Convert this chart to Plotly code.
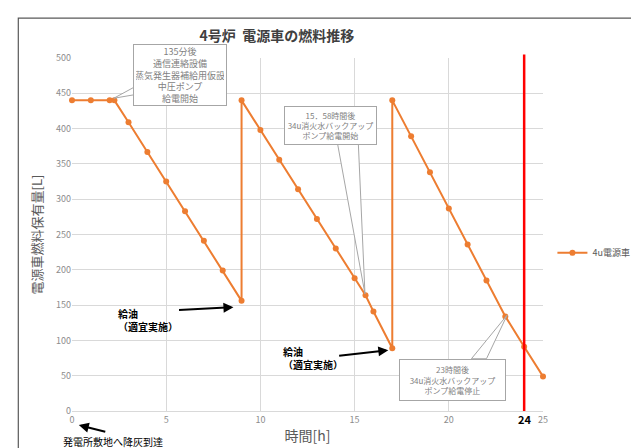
import plotly.graph_objects as go

# ---- data ----
hours = [0, 1, 2, 2.25, 3, 4, 5, 6, 7, 8, 9, 9, 10, 11, 12, 13, 14, 15, 15.58, 16, 17,
         17, 18, 19, 20, 21, 22, 23, 24, 25]
fuel = [440, 440, 440, 440, 409, 367, 325, 283, 241, 199, 156, 440, 398, 356, 314, 272,
        230, 188, 164, 141, 89, 440, 389, 338, 287, 236, 185, 134, 91, 49]
series_name = "4u電源車"
x_ticks = [0, 5, 10, 15, 20, 25]
y_ticks = [0, 50, 100, 150, 200, 250, 300, 350, 400, 450, 500]
limit_hour = 24
X_MAX = 25

FONT = "Noto Sans CJK JP"
ORANGE = "#ED7D31"
GRAY_TXT = "#7f7f7f"
BOX_LINE = "#a6a6a6"

fig = go.Figure()
fig.add_trace(go.Scatter(
    x=hours, y=fuel, mode="lines+markers", name=series_name,
    line=dict(color=ORANGE, width=2),
    marker=dict(color=ORANGE, size=6),
    cliponaxis=False,
))

shapes = []
# red vertical line at 24h
shapes.append(dict(type="line", xref="x", yref="paper", x0=limit_hour, x1=limit_hour,
                   y0=0, y1=1.01, line=dict(color="#ff0000", width=2.5)))
# callout wedges
wedges = [
    [(2.22, 443), (3.32, 459), (3.32, 448)],
    [(15.55, 166), (14.1, 378), (15.2, 378)],
    [(23.1, 136), (21.2, 74), (22.0, 74)],
]
for w in wedges:
    p = "M {} {} L {} {} L {} {} Z".format(w[0][0], w[0][1], w[1][0], w[1][1], w[2][0], w[2][1])
    shapes.append(dict(type="path", xref="x", yref="y", path=p,
                       fillcolor="white", line=dict(color=BOX_LINE, width=1)))
# outer frame
shapes.append(dict(type="rect", xref="paper", yref="paper", x0=-0.114, x1=1.3,
                   y0=-0.3, y1=1.113, line=dict(color="#595959", width=1.2),
                   fillcolor="rgba(0,0,0,0)"))

anns = []
# callout boxes
anns.append(dict(x=5.71, y=476, xref="x", yref="y", showarrow=False,
                 text="135分後<br>通信連絡設備<br>蒸気発生器補給用仮設<br>中圧ポンプ<br>給電開始",
                 font=dict(family=FONT, size=9, color=GRAY_TXT),
                 bgcolor="white", bordercolor=BOX_LINE, borderwidth=1, borderpad=2,
                 width=88, height=56, align="center"))
anns.append(dict(x=13.7, y=404, xref="x", yref="y", showarrow=False,
                 text="15．58時間後<br>34u消火水バックアップ<br>ポンプ給電開始",
                 font=dict(family=FONT, size=8, color=GRAY_TXT),
                 bgcolor="white", bordercolor=BOX_LINE, borderwidth=1, borderpad=2,
                 width=87, height=33, align="center"))
anns.append(dict(x=20.17, y=44, xref="x", yref="y", showarrow=False,
                 text="23時間後<br>34u消火水バックアップ<br>ポンプ給電停止",
                 font=dict(family=FONT, size=8, color=GRAY_TXT),
                 bgcolor="white", bordercolor=BOX_LINE, borderwidth=1, borderpad=2,
                 width=101, height=36, align="center"))
# refuel notes
for tx, ty in [(2.35, 152), (11.07, 98)]:
    anns.append(dict(x=tx, y=ty, xref="x", yref="y", xanchor="left", yanchor="top",
                     showarrow=False, align="left",
                     text="<b>給油</b><br><b>（適宜実施）</b>",
                     font=dict(family=FONT, size=10, color="black")))
# black arrows
for (hx, hy, tx, ty) in [(8.57, 147, 5.6, 143), (16.79, 86, 14.1, 78)]:
    anns.append(dict(x=hx, y=hy, ax=tx, ay=ty, xref="x", yref="y", axref="x", ayref="y",
                     text="", showarrow=True, arrowhead=2, arrowsize=1, arrowwidth=2,
                     arrowcolor="black"))
# arrow to origin (below axis -> paper coords)
anns.append(dict(x=0.36 / X_MAX, y=-0.04, xref="paper", yref="paper",
                 ax=28, ay=7, axref="pixel", ayref="pixel",
                 text="", showarrow=True, arrowhead=2, arrowsize=1, arrowwidth=2,
                 arrowcolor="black"))
anns.append(dict(x=2.19 / X_MAX, y=-0.086, xref="paper", yref="paper", showarrow=False,
                 xanchor="center", yanchor="middle",
                 text="発電所敷地へ降灰到達",
                 font=dict(family=FONT, size=10, color="black")))
anns.append(dict(x=limit_hour / X_MAX, y=-0.022, xref="paper", yref="paper", showarrow=False,
                 xanchor="center", yanchor="middle",
                 text="<b>24</b>", font=dict(family=FONT, size=11, color="black")))

fig.update_layout(
    width=639, height=448,
    margin=dict(l=64, r=85, t=50, b=45),
    paper_bgcolor="white", plot_bgcolor="white",
    font=dict(family=FONT),
    title=dict(text="<b>4号炉  電源車の燃料推移</b>", x=0.435, xref="paper", xanchor="center",
               y=1 - 28 / 448, yanchor="middle",
               font=dict(family=FONT, size=14, color="#404040")),
    xaxis=dict(range=[0, X_MAX], tickvals=x_ticks, showgrid=True, gridcolor="#d9d9d9",
               gridwidth=1, zeroline=False, showline=True, linecolor="#d9d9d9",
               tickfont=dict(size=9, color="#8c8c8c"), ticks="",
               title=dict(text="時間[h]", font=dict(size=14, color="#595959"), standoff=6)),
    yaxis=dict(range=[0, 500], tickvals=y_ticks, showgrid=True, gridcolor="#d9d9d9",
               gridwidth=1, zeroline=False, showline=False,
               tickfont=dict(size=9, color="#8c8c8c"), ticks="",
               title=dict(text="電源車燃料保有量[L]", font=dict(size=13, color="#595959"),
                          standoff=10)),
    legend=dict(x=1.02, xanchor="left", y=0.448, yanchor="middle",
                font=dict(size=9, color="#595959"), bgcolor="rgba(0,0,0,0)"),
    showlegend=True,
    shapes=shapes,
    annotations=anns,
)

fig.write_html("out.html")
